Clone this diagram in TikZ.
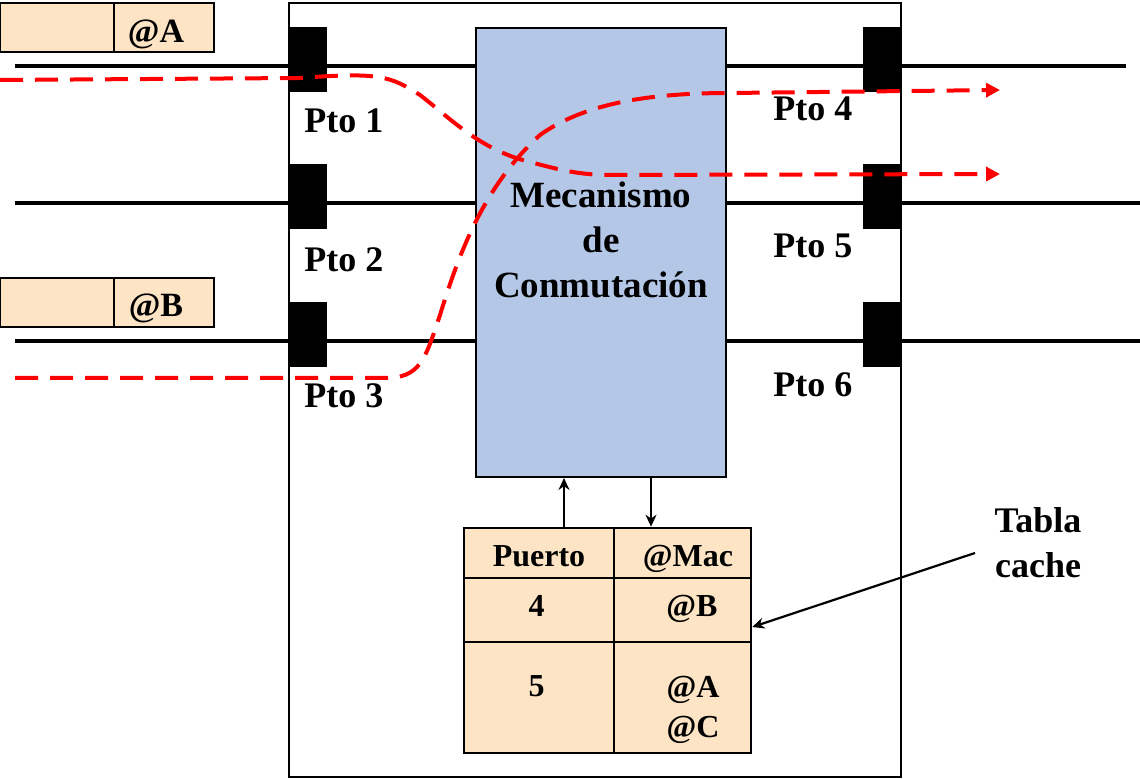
\documentclass[tikz,border=0pt]{standalone}
\usepackage{fontspec}
\setmainfont{Liberation Serif}
\usetikzlibrary{arrows.meta}

\definecolor{azulmec}{RGB}{180,199,231}
\definecolor{crema}{RGB}{252,228,196}

\tikzset{
	cable/.style={line width=2.4pt},
	bloque/.style={fill=black, inner sep=0pt, minimum width=19pt, minimum height=32.5pt},
	caja/.style={draw, line width=1pt, inner sep=0pt},
	celda/.style={caja, fill=crema, line width=1.3pt},
	texto/.style={font=\bfseries\fontsize{18}{22.5}\selectfont, inner sep=0pt, anchor=base},
	tabtxt/.style={texto, font=\bfseries\fontsize{16}{20}\selectfont},
	ruta/.style={red, line width=2pt, dash pattern=on 11.5pt off 6pt, -{Triangle[length=7pt,width=7pt]}},
	flecha/.style={line width=1.1pt, -{Stealth[length=6pt,width=5.5pt]}},
}

\begin{document}
\begin{tikzpicture}[x=0.5pt,y=-0.5pt]
	\useasboundingbox (0,0) rectangle (1140,779);
	% cables
	\coordinate (c1i) at (15,66);  \coordinate (c1d) at (1126,66);
	\coordinate (c2i) at (15,203); \coordinate (c2d) at (1140,203);
	\coordinate (c3i) at (15,341); \coordinate (c3d) at (1140,341);
	\draw[cable] (c1i) -- (c1d) (c2i) -- (c2d) (c3i) -- (c3d);
	% conmutador
	\node (sw) [caja, minimum width=306pt, minimum height=387pt] at (595,390) {};
	\node (mec) [caja, fill=azulmec, minimum width=125pt, minimum height=224.5pt] at (601,252.5) {};
	\node (meclbl) [texto, font=\bfseries\fontsize{18.5}{22.5}\selectfont, align=center] at (601,298) {Mecanismo\\de\\Conmutación};
	% puertos
	\foreach \i/\x/\y in {1/308/59.5, 2/308/197, 3/308/334.5, 4/882/59.5, 5/882/197, 6/882/334.5}
		\node (p\i) [bloque] at (\x,\y) {};
	\foreach \i/\x/\y in {1/304/133, 2/304/272, 3/304/408, 4/773/121, 5/773/258, 6/773/397}
		\node (pto\i) [texto, anchor=base west] at (\x,\y) {Pto \i};
	% tramas
	\node (tA1) [celda, minimum width=57pt, minimum height=24.5pt] at (57,27.5) {};
	\node (tA2) [celda, minimum width=50pt, minimum height=24.5pt] at (164,27.5) {};
	\node (dirA) [texto, font=\bfseries\fontsize{17}{20}\selectfont] at (156,43) {@A};
	\node (tB1) [celda, minimum width=57pt, minimum height=24.5pt] at (57,302.5) {};
	\node (tB2) [celda, minimum width=50pt, minimum height=24.5pt] at (164,302.5) {};
	\node (dirB) [texto, font=\bfseries\fontsize{17}{20}\selectfont] at (156,317) {@B};
	% tabla cache
	\foreach \f/\y/\h in {1/553/25, 2/610/32, 3/697.5/55.5} {
		\node (t\f a) [celda, minimum width=75pt, minimum height=\h pt] at (539,\y) {};
		\node (t\f b) [celda, minimum width=68.5pt, minimum height=\h pt] at (682.5,\y) {};
	}
	\node [tabtxt] at (539,567) {Puerto};
	\node [tabtxt] at (688,567) {@Mac};
	\node [tabtxt] at (536.5,617) {4};
	\node [tabtxt] at (692,617) {@B};
	\node [tabtxt] at (536.5,697) {5};
	\node [tabtxt, align=center] at (693,737) {@A\\@C};
	\coordinate (sube) at (564,0); \coordinate (baja) at (651,0);
	\draw[flecha] (sube |- t1a.north) -- (sube |- mec.south);
	\draw[flecha] (baja |- mec.south) -- (baja |- t1b.north);
	\node (cache) [texto, align=center] at (1038,578) {Tabla\\cache};
	\coordinate (cola) at (975,553);
	\draw[flecha] (cola) -- ([yshift=-8.5pt]t2b.east);
	% caminos
	\coordinate (inA) at (0,80);    \coordinate (outA) at (1000,174);
	\coordinate (inB) at (15,378);  \coordinate (outB) at (1000,90);
	\draw[ruta] (inA) -- (300,78) .. controls (380,72) and (390,76) .. (420,95) .. controls (450,118) and (480,150) .. (530,162) .. controls (560,170) and (580,175) .. (610,175) -- (outA);
	\draw[ruta] (inB) -- (385,378) .. controls (420,378) and (425,360) .. (440,315) .. controls (460,250) and (485,185) .. (540,135) .. controls (585,103) and (650,93) .. (730,93) -- (outB);
\end{tikzpicture}
\end{document}
